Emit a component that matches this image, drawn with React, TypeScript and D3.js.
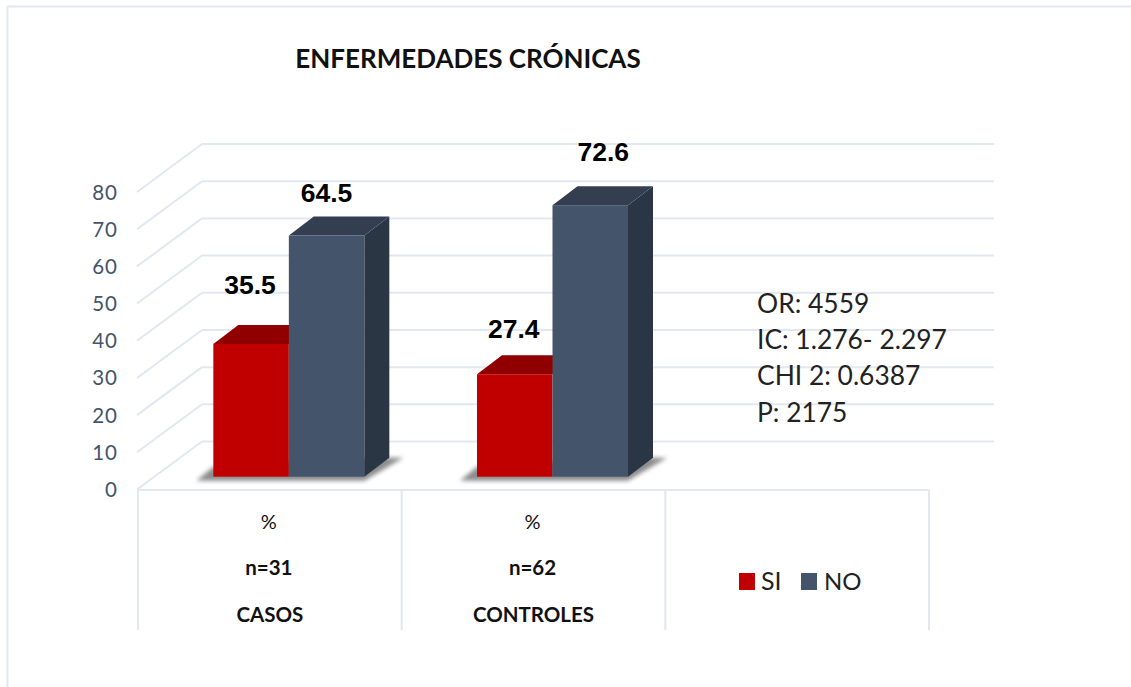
import React from "react";
import * as d3 from "d3";

const groups = ["CASOS", "CONTROLES"];
const groupN = ["n=31", "n=62"];
const siValues = [35.5, 27.4];
const noValues = [64.5, 72.6];
const axisTicks = [0, 10, 20, 30, 40, 50, 60, 70, 80];
const statLines = ["OR: 4559", "IC: 1.276- 2.297", "CHI 2: 0.6387", "P: 2175"];

// label offsets relative to each bar's top-centre, as placed by hand in the original
const siLabelOffset = [[-1, -50], [-1, -36]];
const noLabelOffset = [[0, -33], [13, -44]];

const SANS = "Lato, Carlito, 'Open Sans', sans-serif";
const ARIAL = "'Liberation Sans', Arial, sans-serif";
const GRID = "#e2e7f0";
const AXIS_TEXT = "#44546a";

const depthX = 65;
const depthY = 48;
const barDX = 25;
const barDY = 19;

const yFront = d3.scaleLinear().domain([0, 80]).range([489.5, 192]);
const yBack = d3.scaleLinear().domain([0, 80]).range([489.5 - depthY, 192 - depthY]);
const yBar = d3.scaleLinear().domain([0, 80]).range([476.7, 177.5]);

const xCat = d3.scaleBand<string>().domain([...groups, "legend"]).range([138, 929]);
const barW = 75.5;
const cellCentre = (g: string) => (xCat(g) as number) + xCat.bandwidth() / 2;
// bar pair boundary sits 19px right of the middle of each category cell
const pairCentre = (g: string) => cellCentre(g) + 19;

function Bar({ x, v, front, top, side }: { x: number; v: number; front: string; top: string; side?: string }) {
  const y0 = yBar(0);
  const y1 = yBar(v);
  const pts = (p: number[][]) => p.map((a) => a.join(",")).join(" ");
  return (
    <g>
      {side && (
        <polygon
          fill={side}
          points={pts([[x + barW, y0], [x + barW + barDX, y0 - barDY], [x + barW + barDX, y1 - barDY], [x + barW, y1]])}
        />
      )}
      <polygon
        fill={top}
        points={pts([[x, y1], [x + barDX, y1 - barDY], [x + barW + barDX, y1 - barDY], [x + barW, y1]])}
      />
      <rect x={x} y={y1} width={barW} height={y0 - y1} fill={front} />
    </g>
  );
}

export default function App() {
  const tableY0 = 490;
  const tableY1 = 630;
  const [tableX0] = xCat.range();
  return (
    <svg
      width={1131}
      height={687}
      style={{ position: "absolute", left: 0, top: 0, background: "#fff" }}
    >
      <defs>
        <filter id="sh" x="-20%" y="-60%" width="140%" height="220%">
          <feGaussianBlur stdDeviation="2" />
        </filter>
      </defs>

      {/* outer frame */}
      <path d="M7.5,687 V6.5 H1131" fill="none" stroke={GRID} strokeWidth={2} />

      <text x={468} y={68} textAnchor="middle" fontFamily={SANS} fontWeight={700} fontSize={26} fill="#111">
        ENFERMEDADES CRÓNICAS
      </text>

      {/* grid: diagonal on the side wall, horizontal on the back wall */}
      {axisTicks.map((t) => (
        <g key={t} stroke={GRID} strokeWidth={2} fill="none">
          <line x1={137} y1={yFront(t)} x2={137 + depthX} y2={yBack(t)} />
          <line x1={137 + depthX} y1={yBack(t)} x2={994} y2={yBack(t)} />
        </g>
      ))}

      {/* floor front edge and table */}
      <g stroke={GRID} strokeWidth={2} fill="none">
        <line x1={138} y1={tableY0} x2={929} y2={tableY0} />
        {[0, 1, 2, 3].map((i) => (
          <line key={i} x1={tableX0 + i * xCat.bandwidth()} y1={tableY0} x2={tableX0 + i * xCat.bandwidth()} y2={tableY1} />
        ))}
      </g>

      {axisTicks.map((t) => (
        <text key={t} x={118} y={yFront(t) + 7.5} textAnchor="end" fontFamily={SANS} fontSize={20.5} letterSpacing={1} fill={AXIS_TEXT}>
          {t}
        </text>
      ))}

      {/* bars */}
      {groups.map((g, i) => {
        const c = pairCentre(g);
        const x0 = c - barW;
        const cc = cellCentre(g);
        return (
          <g key={g}>
            <polygon
              filter="url(#sh)"
              fill="#8c8c8c"
              points={[
                [x0 - 17, yBar(0) + 4],
                [x0 + 2 * barW, yBar(0) + 4],
                [x0 + 2 * barW + 39, yBar(0) - barDY],
                [x0 + 2 * barW, yBar(0) - barDY],
                [x0, yBar(0) - 10],
              ].map((a) => a.join(",")).join(" ")}
            />
            <Bar x={x0} v={siValues[i]} front="#c00000" top="#900000" />
            <Bar x={c} v={noValues[i]} front="#44546a" top="#333f50" side="#2b3645" />
            <text x={x0 + barW / 2 + siLabelOffset[i][0]} y={yBar(siValues[i]) + siLabelOffset[i][1]} textAnchor="middle" fontFamily={ARIAL} fontWeight={700} fontSize={26.5} fill="#000">
              {siValues[i].toFixed(1)}
            </text>
            <text x={c + barW / 2 + noLabelOffset[i][0]} y={yBar(noValues[i]) + noLabelOffset[i][1]} textAnchor="middle" fontFamily={ARIAL} fontWeight={700} fontSize={26.5} fill="#000">
              {noValues[i].toFixed(1)}
            </text>
            <text x={cc - 1} y={529} textAnchor="middle" fontFamily={SANS} fontWeight={400} fontSize={20} fill="#111">
              %
            </text>
            <text x={cc - 1} y={575} textAnchor="middle" fontFamily={SANS} fontWeight={700} fontSize={20.5} fill="#111">
              {groupN[i]}
            </text>
            <text x={cc} y={622} textAnchor="middle" fontFamily={SANS} fontWeight={700} fontSize={20.5} fill="#111">
              {g}
            </text>
          </g>
        );
      })}

      {/* stats */}
      {statLines.map((s, i) => (
        <text key={s} x={757} y={313 + i * 36.2} fontFamily={SANS} fontSize={26.4} fill="#222">
          {s}
        </text>
      ))}

      {/* legend */}
      <rect x={739} y={573} width={16} height={17} fill="#c00000" />
      <text x={761} y={590} fontFamily={SANS} fontSize={25} fill="#222">SI</text>
      <rect x={801} y={573} width={16} height={17} fill="#44546a" />
      <text x={824} y={590} fontFamily={SANS} fontSize={24} fill="#222">NO</text>
    </svg>
  );
}
